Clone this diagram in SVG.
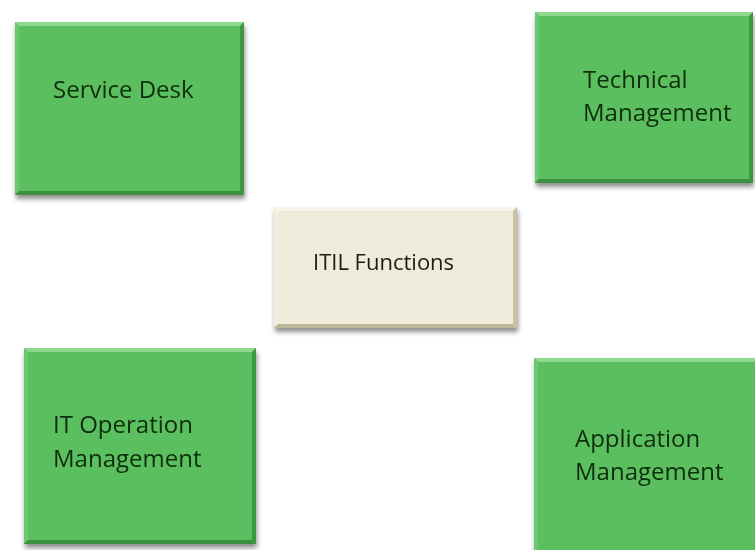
<svg xmlns="http://www.w3.org/2000/svg" width="755" height="550" viewBox="0 0 755 550">
  <defs>
    <filter id="shadow" x="-10%" y="-10%" width="120%" height="125%">
      <feGaussianBlur in="SourceAlpha" stdDeviation="2.5"/>
      <feOffset dx="1" dy="4" result="b"/>
      <feComponentTransfer><feFuncA type="linear" slope="0.45"/></feComponentTransfer>
      <feMerge><feMergeNode/><feMergeNode in="SourceGraphic"/></feMerge>
    </filter>
  </defs>
  <style>
    .green { fill: #5cbf5f; }
    .gtop { fill: #8fd890; }
    .gleft { fill: #6cc76f; }
    .gright { fill: #3e9642; }
    .gbot { fill: #3d8f40; }
    .beige { fill: #eeebda; }
    .btop { fill: #f8f6ec; }
    .bleft { fill: #f2efe1; }
    .bright { fill: #c7c2a8; }
    .bbot { fill: #bcb69b; }
    .lbl { font-family: "Open Sans", "Liberation Sans", sans-serif; font-size: 24px; fill: #0e2e0e; }
    .clbl { font-family: "Open Sans", "Liberation Sans", sans-serif; font-size: 22px; fill: #1c1c16; }
  </style>
  <rect width="755" height="550" fill="#ffffff"/>

  <g id="connectors"></g>

  <g id="service-desk" filter="url(#shadow)">
    <rect class="green" x="15" y="22" width="229" height="173"/>
    <polygon class="gtop" points="15,22 244,22 240,26 19,26"/>
    <polygon class="gleft" points="15,22 19,26 19,191 15,195"/>
    <polygon class="gright" points="244,22 244,195 240,191 240,26"/>
    <polygon class="gbot" points="15,195 244,195 240,191 19,191"/>
    <text class="lbl" x="53" y="98">Service Desk</text>
  </g>

  <g id="technical-management" filter="url(#shadow)">
    <rect class="green" x="535" y="12" width="218" height="171"/>
    <polygon class="gtop" points="535,12 753,12 749,16 539,16"/>
    <polygon class="gleft" points="535,12 539,16 539,179 535,183"/>
    <polygon class="gright" points="753,12 753,183 749,179 749,16"/>
    <polygon class="gbot" points="535,183 753,183 749,179 539,179"/>
    <text class="lbl" x="583" y="88">Technical</text>
    <text class="lbl" x="583" y="121">Management</text>
  </g>

  <g id="itil-functions" filter="url(#shadow)">
    <rect class="beige" x="274" y="207" width="243" height="121"/>
    <polygon class="btop" points="274,207 517,207 513,211 278,211"/>
    <polygon class="bleft" points="274,207 278,211 278,324 274,328"/>
    <polygon class="bright" points="517,207 517,328 513,324 513,211"/>
    <polygon class="bbot" points="274,328 517,328 513,324 278,324"/>
    <text class="clbl" x="313" y="270">ITIL Functions</text>
  </g>

  <g id="it-operation-management" filter="url(#shadow)">
    <rect class="green" x="24" y="348" width="232" height="196"/>
    <polygon class="gtop" points="24,348 256,348 252,352 28,352"/>
    <polygon class="gleft" points="24,348 28,352 28,540 24,544"/>
    <polygon class="gright" points="256,348 256,544 252,540 252,352"/>
    <polygon class="gbot" points="24,544 256,544 252,540 28,540"/>
    <text class="lbl" x="53" y="433">IT Operation</text>
    <text class="lbl" x="53" y="467">Management</text>
  </g>

  <g id="application-management" filter="url(#shadow)">
    <rect class="green" x="534" y="358" width="230" height="200"/>
    <polygon class="gtop" points="534,358 764,358 764,362 538,362"/>
    <polygon class="gleft" points="534,358 538,362 538,558 534,558"/>
    <text class="lbl" x="575" y="447">Application</text>
    <text class="lbl" x="575" y="480">Management</text>
  </g>
</svg>
